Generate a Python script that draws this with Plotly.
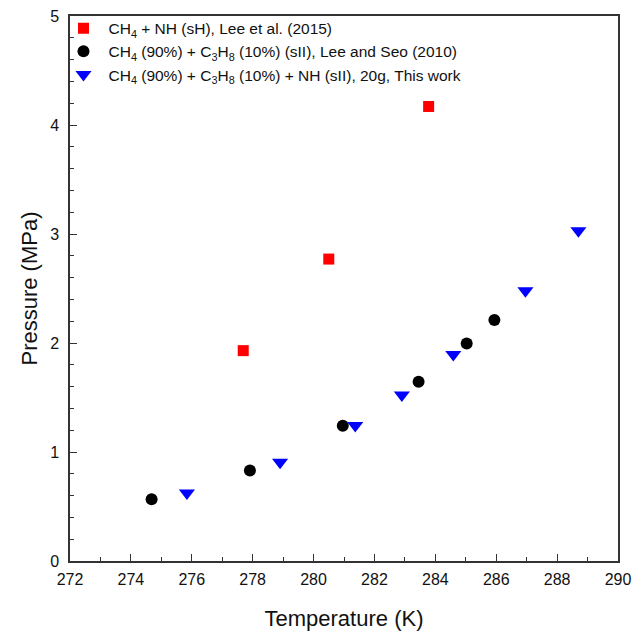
import plotly.graph_objects as go

# Data
sh_T = [277.69, 280.50, 283.78]
sh_P = [1.93, 2.77, 4.17]

seo_T = [274.68, 277.91, 280.96, 283.45, 285.03, 285.94]
seo_P = [0.566, 0.83, 1.24, 1.645, 1.995, 2.21]

this_T = [275.84, 278.90, 281.37, 282.90, 284.59, 286.96, 288.70]
this_P = [0.623, 0.906, 1.244, 1.524, 1.895, 2.48, 3.03]

names = [
    "CH<sub>4</sub> + NH (sH), Lee et al. (2015)",
    "CH<sub>4</sub> (90%) + C<sub>3</sub>H<sub>8</sub> (10%) (sII), Lee and Seo (2010)",
    "CH<sub>4</sub> (90%) + C<sub>3</sub>H<sub>8</sub> (10%) + NH (sII), 20g, This work",
]

FONT = "Arial, Liberation Sans, sans-serif"

fig = go.Figure()
fig.add_trace(go.Scatter(x=sh_T, y=sh_P, mode="markers", name=names[0],
                         marker=dict(symbol="square", size=11, color="#ff0000")))
fig.add_trace(go.Scatter(x=seo_T, y=seo_P, mode="markers", name=names[1],
                         marker=dict(symbol="circle", size=12, color="#000000")))
fig.add_trace(go.Scatter(x=this_T, y=this_P, mode="markers", name=names[2],
                         marker=dict(symbol="triangle-down", size=14, color="#0000ff")))

axis_common = dict(
    showgrid=False, zeroline=False, showline=True, linecolor="#333333", linewidth=1.5,
    mirror=True, ticks="inside", ticklen=7, tickwidth=1, tickcolor="#333333",
    tickfont=dict(family=FONT, size=16, color="#111111"),
    automargin=False, ticklabeloverflow="allow",
)

fig.update_xaxes(range=[272, 290], tick0=272, dtick=2, ticklabelstandoff=3,
                 minor=dict(ticks="inside", ticklen=4, dtick=1, tick0=272, tickcolor="#333333"),
                 title=dict(text="Temperature (K)", font=dict(family=FONT, size=22, color="#111111"),
                            standoff=24),
                 **axis_common)
fig.update_yaxes(range=[0, 5], tick0=0, dtick=1, ticklabelstandoff=6,
                 minor=dict(ticks="inside", ticklen=4, dtick=0.2, tick0=0, tickcolor="#333333"),
                 title=dict(text="Pressure (MPa)", font=dict(family=FONT, size=22, color="#111111"),
                            standoff=6),
                 **axis_common)

fig.update_layout(
    width=633, height=638,
    margin=dict(l=70, r=15, t=13, b=77),
    paper_bgcolor="white", plot_bgcolor="white",
    font=dict(family=FONT, color="#111111"),
    showlegend=True,
    legend=dict(x=-0.021, y=1.008, xanchor="left", yanchor="top",
                bgcolor="rgba(0,0,0,0)", font=dict(family=FONT, size=15.5, color="#111111"),
                itemwidth=40),
)

fig.write_html("out.html", config={"displayModeBar": False},
               post_script="document.body.style.margin='0';")
